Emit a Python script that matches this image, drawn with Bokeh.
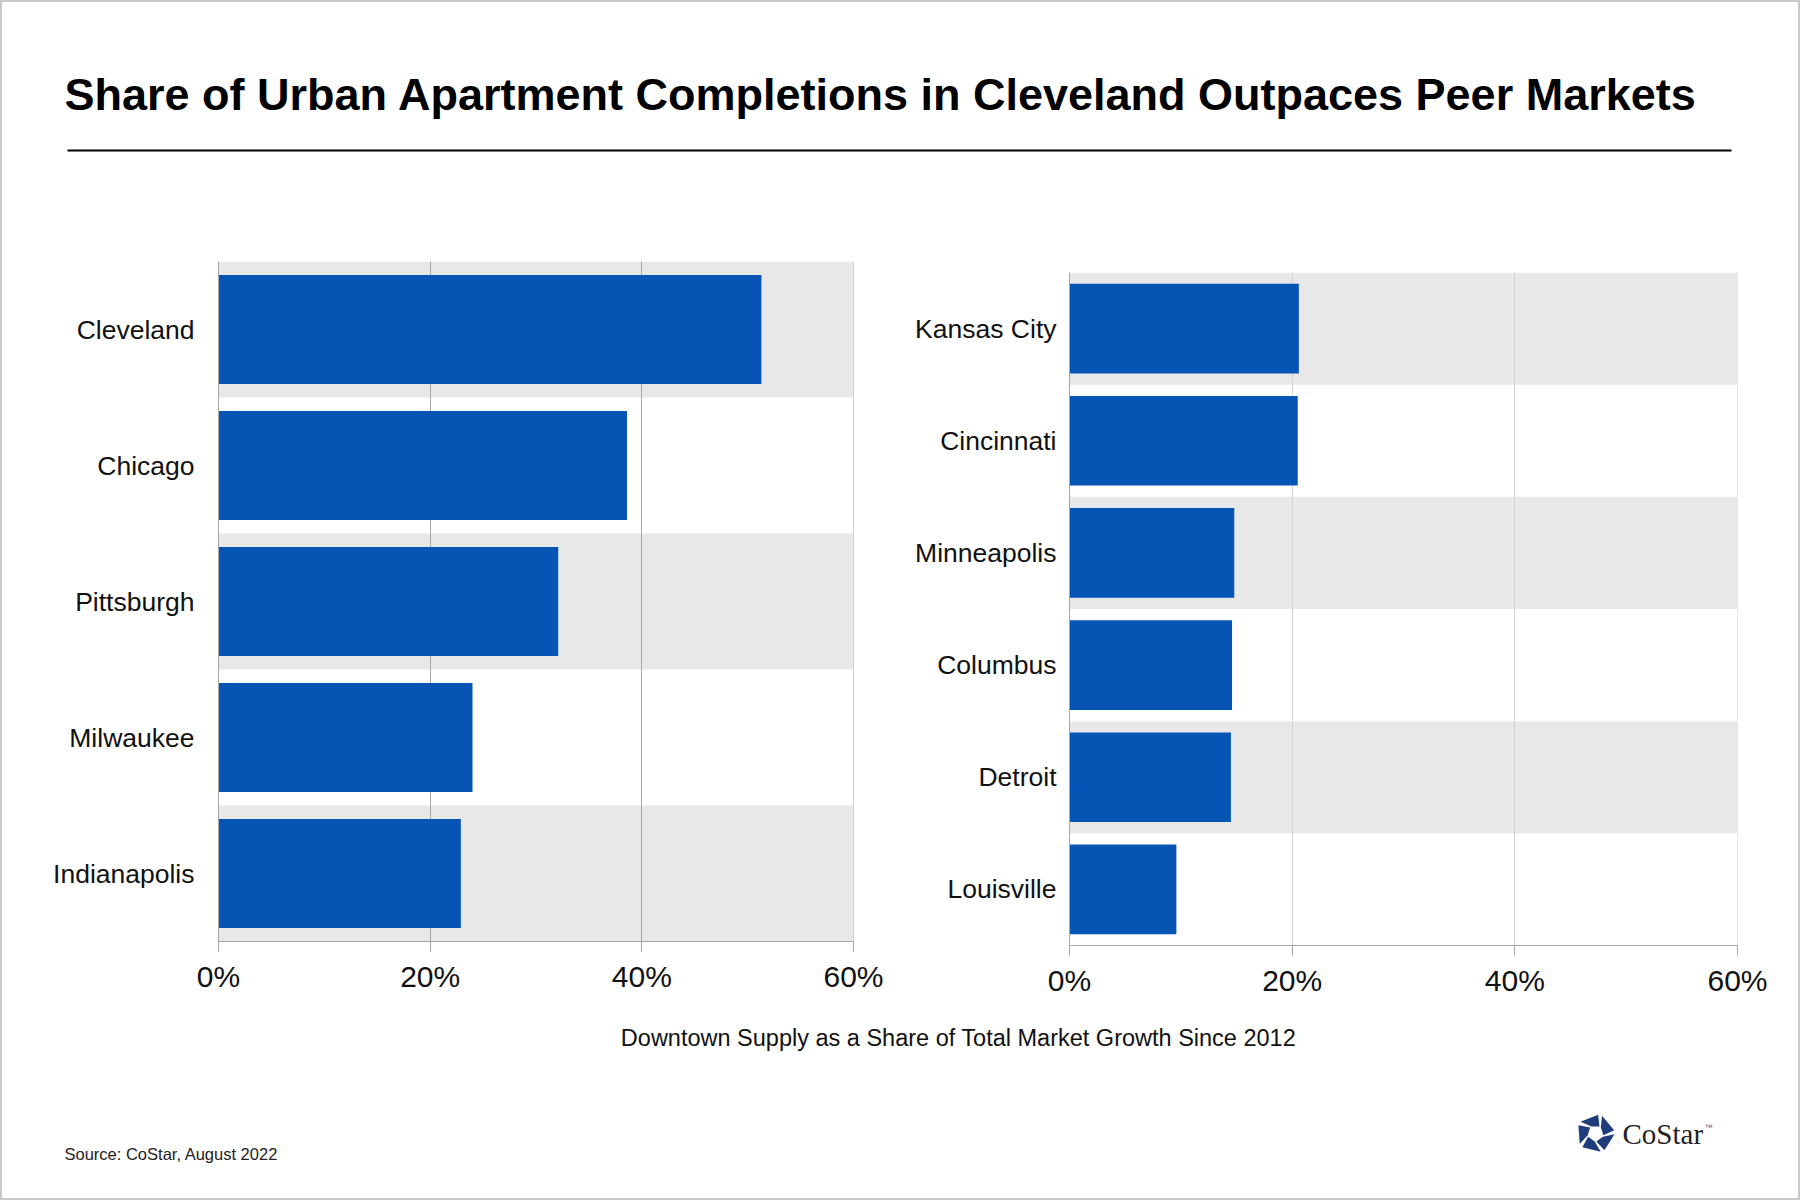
import math

from bokeh.embed import file_html
from bokeh.layouts import column, row
from bokeh.models import FactorRange, FixedTicker, Label, Range1d, Spacer
from bokeh.plotting import figure
from bokeh.resources import INLINE

# ---- data ----
title = "Share of Urban Apartment Completions in Cleveland Outpaces Peer Markets"
x_title = "Downtown Supply as a Share of Total Market Growth Since 2012"
source_note = "Source: CoStar, August 2022"

left_cities = ["Cleveland", "Chicago", "Pittsburgh", "Milwaukee", "Indianapolis"]
left_share = [51.3, 38.6, 32.1, 24.0, 22.9]

right_cities = ["Kansas City", "Cincinnati", "Minneapolis", "Columbus", "Detroit", "Louisville"]
right_share = [20.6, 20.5, 14.8, 14.6, 14.5, 9.6]

ticks = [0, 20, 40, 60]
tick_labels = ["0%", "20%", "40%", "60%"]

BLUE = "#0655b4"
BAND = "#e8e8e8"
NAVY = "#1f3c7b"
FONT = "Liberation Sans"

W = 1796  # content width; a 2px css border goes round it


def deco_fig(height):
    p = figure(width=W, height=height, x_range=Range1d(0, W), y_range=Range1d(height, 0),
               x_axis_type=None, y_axis_type=None, min_border=0, title=None,
               output_backend="svg", toolbar_location=None)
    p.grid.visible = False
    p.outline_line_color = None
    return p


def bar_panel(cities, shares, grid_color, width, height, borders, label_standoff):
    top, right, bottom, left = borders
    p = figure(y_range=FactorRange(factors=list(reversed(cities))),
               x_range=Range1d(ticks[0], ticks[-1]),
               width=width, height=height, title=None,
               min_border_top=top, min_border_right=right,
               min_border_bottom=bottom, min_border_left=left,
               output_backend="svg", toolbar_location=None)
    p.outline_line_color = None
    p.grid.visible = False

    # alternating background bands, then gridlines, then bars
    p.hbar(y=cities[::2], left=ticks[0], right=ticks[-1], height=1.0,
           fill_color=BAND, line_color=None)
    p.vspan(x=ticks[1:], line_color=grid_color, line_width=1)
    p.hbar(y=cities, left=0, right=shares, height=0.8,
           fill_color=BLUE, line_color=None)

    p.xaxis.ticker = FixedTicker(ticks=ticks, minor_ticks=[])
    p.xaxis.major_label_overrides = dict(zip(ticks, tick_labels))
    p.xaxis.axis_line_color = "#a6a6a6"
    p.xaxis.major_tick_line_color = "#a6a6a6"
    p.xaxis.major_tick_out = 10
    p.xaxis.major_tick_in = 0
    p.xaxis.major_label_standoff = 8
    p.xaxis.major_label_text_font = FONT
    p.xaxis.major_label_text_font_size = "30px"
    p.xaxis.major_label_text_color = "#111111"

    p.yaxis.axis_line_color = "#a6a6a6"
    p.yaxis.major_tick_line_color = None
    p.yaxis.major_tick_out = 0
    p.yaxis.major_tick_in = 0
    p.yaxis.major_label_standoff = label_standoff
    p.yaxis.major_label_text_font = FONT
    p.yaxis.major_label_text_font_size = "26.5px"
    p.yaxis.major_label_text_color = "#111111"
    return p


# ---- header ----
head = deco_fig(240)
head.add_layout(Label(x=62, y=92, text=title, text_font=FONT, text_font_style="bold",
                      text_font_size="45px", text_baseline="middle", text_color="#000000"))
head.segment(x0=[65], y0=[148], x1=[1729], y1=[148], line_color="#000000", line_width=2)

# ---- the two panels (borders: top, right, bottom, left) ----
left = bar_panel(left_cities, left_share, "#a6a6a6", 893, 768, (19, 42, 69, 216), 24)
right = bar_panel(right_cities, right_share, "#d4d4d4", 903, 757, (19, 61, 65, 174), 13)
panels = row(column(left), column(Spacer(width=903, height=11), right))

# ---- footer ----
foot = deco_fig(188)
foot.add_layout(Label(x=956, y=27, text=x_title, text_font=FONT, text_font_size="23.5px",
                      text_align="center", text_baseline="middle", text_color="#111111"))
foot.add_layout(Label(x=62, y=143, text=source_note, text_font=FONT, text_font_size="16.5px",
                      text_baseline="middle", text_color="#222222"))

# CoStar logo: pinwheel of five pieces plus wordmark
cx, cy, R, r = 1593, 123, 19, 8
xs, ys = [], []
for k in range(5):
    a0 = math.radians(-76 + 72 * k + 6)
    a1 = math.radians(-76 + 72 * (k + 1) - 6)
    s = math.radians(22)
    pts = [(R, a0), (R, a1), (r, a1 + s), (r, a0 + s)]
    xs.append([cx + d * math.cos(a) for d, a in pts])
    ys.append([cy + d * math.sin(a) for d, a in pts])
foot.patches(xs, ys, fill_color=NAVY, line_color=None)
foot.add_layout(Label(x=1620, y=123, text="CoStar", text_font="Liberation Serif",
                      text_font_size="29px", text_baseline="middle", text_color="#222222"))
foot.add_layout(Label(x=1702, y=117, text="™", text_font=FONT, text_font_size="8px",
                      text_baseline="middle", text_color="#555555"))

layout = column(head, panels, foot,
                styles={"border": "2px solid #c9c9c9", "background-color": "white"})

open("out.html", "w").write(file_html(layout, INLINE))
